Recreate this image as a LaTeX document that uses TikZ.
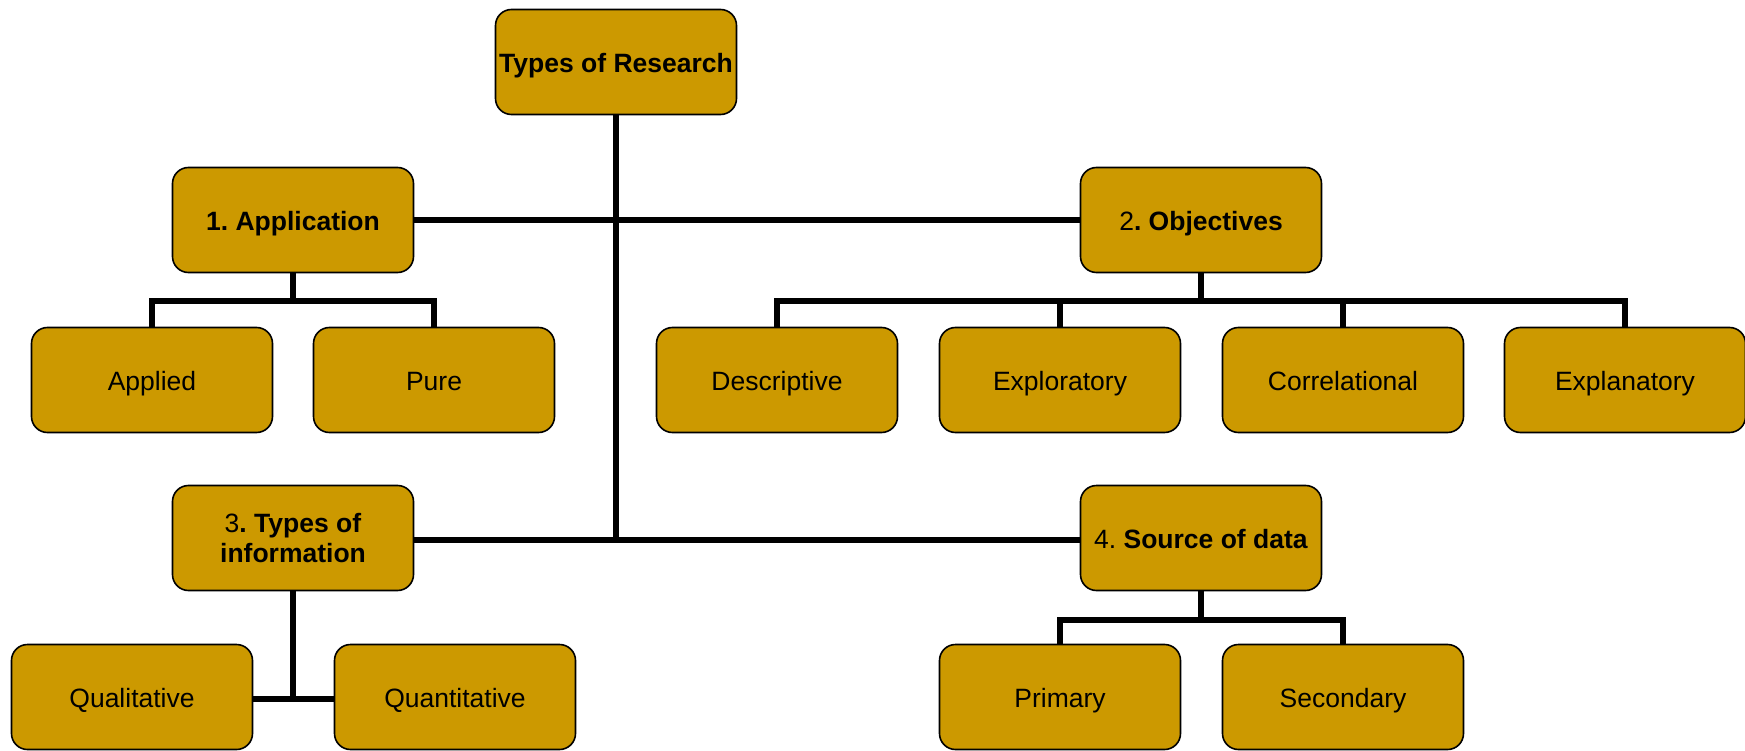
\documentclass[tikz,border=0pt]{standalone}
\usepackage{fontspec}
\setmainfont{Liberation Sans}
\definecolor{boxgold}{HTML}{CC9900}
\begin{document}
\frenchspacing
\begin{tikzpicture}[x=1pt,y=-1pt,
  boxbase/.style={draw=black, line width=1.6pt, fill=boxgold, rounded corners=16pt,
    minimum width=241pt, minimum height=105pt, align=center, inner sep=2pt,
    font=\fontsize{26.5}{30.5}\selectfont},
  box/.style={boxbase, text height=22pt, text depth=1pt},
  wire/.style={line width=5.5pt, line join=miter}]
\useasboundingbox (0,0) rectangle (1745,751);

% root
\node[box] (root) at (616,62) {\textbf{Types of Research}};

% first level
\node[box] (app) at (293,220) {\textbf{1. Application}};
\node[box] (obj) at (1201,220) {2\textbf{. Objectives}};
\node[boxbase] (info) at (293,538) {3\textbf{. Types of}\\\textbf{information}};
\node[box] (src) at (1201,538) {4. \textbf{Source of data}};

% leaves
\node[box] (applied) at (152,380) {Applied};
\node[box] (pure) at (434,380) {Pure};
\node[box] (desc) at (777,380) {Descriptive};
\node[box] (expl) at (1060,380) {Exploratory};
\node[box] (corr) at (1343,380) {Correlational};
\node[box] (expn) at (1625,380) {Explanatory};
\node[box] (qual) at (132,697) {Qualitative};
\node[box] (quant) at (455,697) {Quantitative};
\node[box] (prim) at (1060,697) {Primary};
\node[box] (sec) at (1343,697) {Secondary};

% bus heights
\coordinate (trunkend) at (616,540);
\coordinate (appbus) at (293,301);
\coordinate (objbus) at (1201,301);
\coordinate (srcbus) at (1201,620);
\coordinate (infobus) at (293,699);

% trunk and main branches
\draw[wire] (root.south) -- (trunkend);
\draw[wire] (app.east) -- (obj.west);
\draw[wire] (info.east |- trunkend) -- (src.west |- trunkend);

% application children
\draw[wire] (app.south) -- (appbus);
\draw[wire] (applied.north) -- (applied.north |- appbus) -- (pure.north |- appbus) -- (pure.north);

% objectives children
\draw[wire] (obj.south) -- (objbus);
\draw[wire] (desc.north) -- (desc.north |- objbus) -- (expn.north |- objbus) -- (expn.north);
\draw[wire] (expl.north) -- (expl.north |- objbus);
\draw[wire] (corr.north) -- (corr.north |- objbus);

% types of information children
\draw[wire] (info.south) -- (infobus);
\draw[wire] (qual.east |- infobus) -- (quant.west |- infobus);

% source of data children
\draw[wire] (src.south) -- (srcbus);
\draw[wire] (prim.north) -- (prim.north |- srcbus) -- (sec.north |- srcbus) -- (sec.north);
\end{tikzpicture}
\end{document}
